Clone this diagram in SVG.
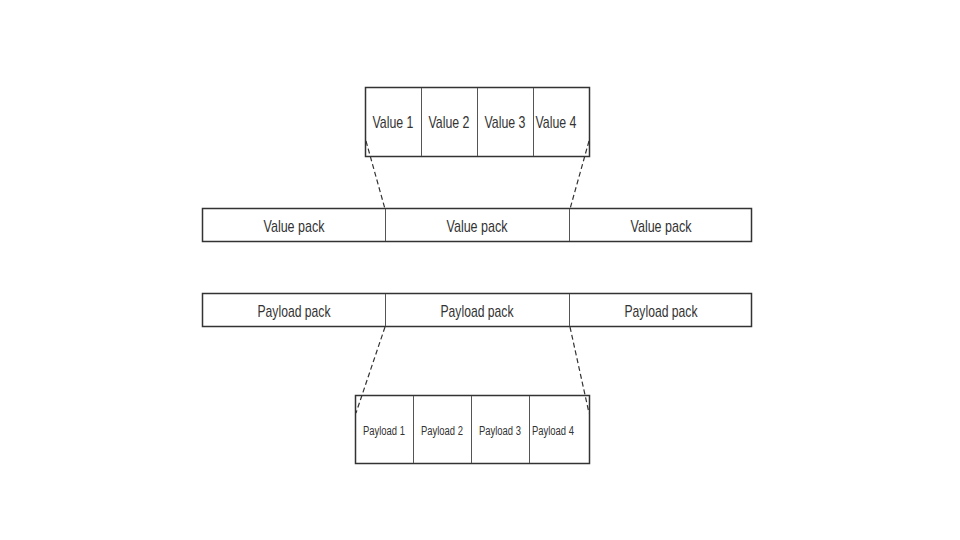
<svg xmlns="http://www.w3.org/2000/svg" width="960" height="540" viewBox="0 0 960 540">
<style>
.box{fill:#fff;stroke:#333;stroke-width:1.5}
.div{stroke:#555;stroke-width:1}
.t{font-family:"Liberation Sans",Arial,sans-serif;fill:#333;text-anchor:middle}
.big{font-size:17px}
.sm{font-size:12px}
.dash{fill:none;stroke:#333;stroke-width:1.2;stroke-dasharray:5,3}
</style>
<rect width="960" height="540" fill="#fff"/>
<g id="values">
<rect class="box" x="365.5" y="87.5" width="224" height="69"/>
<line class="div" x1="421.5" y1="88" x2="421.5" y2="156"/>
<line class="div" x1="477.5" y1="88" x2="477.5" y2="156"/>
<line class="div" x1="533.5" y1="88" x2="533.5" y2="156"/>
<text class="t big" x="393" y="128" textLength="41" lengthAdjust="spacingAndGlyphs">Value 1</text>
<text class="t big" x="449" y="128" textLength="41" lengthAdjust="spacingAndGlyphs">Value 2</text>
<text class="t big" x="505" y="128" textLength="41" lengthAdjust="spacingAndGlyphs">Value 3</text>
<text class="t big" x="556" y="128" textLength="41" lengthAdjust="spacingAndGlyphs">Value 4</text>
</g>
<g id="value-packs">
<rect class="box" x="202.5" y="208.5" width="549" height="33"/>
<line class="div" x1="385.5" y1="209" x2="385.5" y2="241"/>
<line class="div" x1="569.5" y1="209" x2="569.5" y2="241"/>
<text class="t big" x="294" y="231.5" textLength="61" lengthAdjust="spacingAndGlyphs">Value pack</text>
<text class="t big" x="477" y="231.5" textLength="61" lengthAdjust="spacingAndGlyphs">Value pack</text>
<text class="t big" x="661" y="231.5" textLength="61" lengthAdjust="spacingAndGlyphs">Value pack</text>
</g>
<g id="payload-packs">
<rect class="box" x="202.5" y="293.5" width="549" height="33"/>
<line class="div" x1="385.5" y1="294" x2="385.5" y2="326"/>
<line class="div" x1="569.5" y1="294" x2="569.5" y2="326"/>
<text class="t big" x="294" y="316.5" textLength="73" lengthAdjust="spacingAndGlyphs">Payload pack</text>
<text class="t big" x="477" y="316.5" textLength="73" lengthAdjust="spacingAndGlyphs">Payload pack</text>
<text class="t big" x="661" y="316.5" textLength="73" lengthAdjust="spacingAndGlyphs">Payload pack</text>
</g>
<g id="payloads">
<rect class="box" x="355.5" y="395.5" width="234" height="68"/>
<line class="div" x1="413.5" y1="396" x2="413.5" y2="463"/>
<line class="div" x1="471.5" y1="396" x2="471.5" y2="463"/>
<line class="div" x1="529.5" y1="396" x2="529.5" y2="463"/>
<text class="t sm" x="384" y="435" textLength="42" lengthAdjust="spacingAndGlyphs">Payload 1</text>
<text class="t sm" x="442" y="435" textLength="42" lengthAdjust="spacingAndGlyphs">Payload 2</text>
<text class="t sm" x="500" y="435" textLength="42" lengthAdjust="spacingAndGlyphs">Payload 3</text>
<text class="t sm" x="553" y="435" textLength="42" lengthAdjust="spacingAndGlyphs">Payload 4</text>
</g>
<g id="connectors">
<line class="dash" x1="366" y1="141" x2="385" y2="209"/>
<line class="dash" x1="589" y1="141" x2="570" y2="209"/>
<line class="dash" x1="385" y1="327" x2="356" y2="413"/>
<line class="dash" x1="570" y1="327" x2="589" y2="413"/>
</g>
</svg>
